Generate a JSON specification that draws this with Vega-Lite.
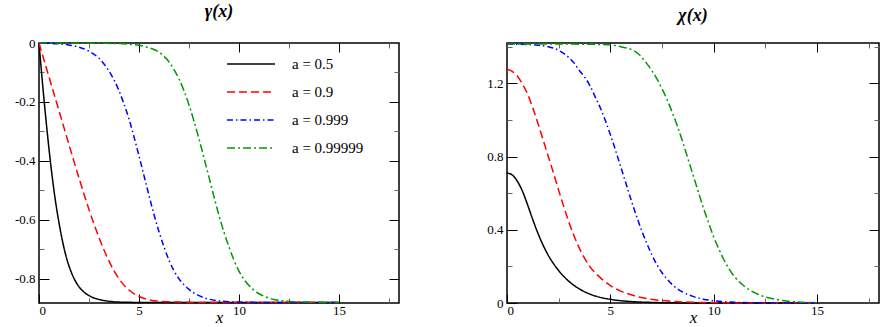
{
  "$schema": "https://vega.github.io/schema/vega-lite/v6.json",
  "padding": {"left": 0, "top": 2, "right": 0, "bottom": 0},
  "spacing": 67,
  "config": {
    "view": {"stroke": "black", "strokeWidth": 1.5},
    "axis": {"domain": false, "grid": false, "labelFont": "'Liberation Serif', serif", "labelFontSize": 13, "labelColor": "black", "tickColor": "black", "titleFont": "'Liberation Serif', serif", "titleColor": "black"},
    "legend": {"orient": "none", "padding": 0, "symbolType": "stroke", "symbolSize": 2300, "symbolStrokeWidth": 1.5, "labelFont": "'Liberation Serif', serif", "labelFontSize": 15, "labelColor": "black", "labelOffset": 16, "clipHeight": 28, "rowPadding": 0, "title": null}
  },
  "datasets": {
    "gamma": [
      {"s": "a = 0.5", "x": 0, "v": 0}, {"s": "a = 0.5", "x": 0.2, "v": -0.155}, {"s": "a = 0.5", "x": 0.4, "v": -0.295}, {"s": "a = 0.5", "x": 0.6, "v": -0.42}, {"s": "a = 0.5", "x": 0.8, "v": -0.525}, {"s": "a = 0.5", "x": 1.0, "v": -0.61}, {"s": "a = 0.5", "x": 1.2, "v": -0.68}, {"s": "a = 0.5", "x": 1.4, "v": -0.735}, {"s": "a = 0.5", "x": 1.6, "v": -0.775}, {"s": "a = 0.5", "x": 1.8, "v": -0.805}, {"s": "a = 0.5", "x": 2.0, "v": -0.827}, {"s": "a = 0.5", "x": 2.25, "v": -0.845}, {"s": "a = 0.5", "x": 2.5, "v": -0.857}, {"s": "a = 0.5", "x": 3.0, "v": -0.87}, {"s": "a = 0.5", "x": 3.5, "v": -0.876}, {"s": "a = 0.5", "x": 4.0, "v": -0.879}, {"s": "a = 0.5", "x": 5.0, "v": -0.88}, {"s": "a = 0.5", "x": 10.0, "v": -0.88}, {"s": "a = 0.5", "x": 15.0, "v": -0.88},
      {"s": "a = 0.9", "x": 0, "v": 0}, {"s": "a = 0.9", "x": 0.5, "v": -0.115}, {"s": "a = 0.9", "x": 1.0, "v": -0.23}, {"s": "a = 0.9", "x": 1.5, "v": -0.345}, {"s": "a = 0.9", "x": 2.0, "v": -0.458}, {"s": "a = 0.9", "x": 2.5, "v": -0.565}, {"s": "a = 0.9", "x": 3.0, "v": -0.66}, {"s": "a = 0.9", "x": 3.5, "v": -0.74}, {"s": "a = 0.9", "x": 4.0, "v": -0.8}, {"s": "a = 0.9", "x": 4.5, "v": -0.838}, {"s": "a = 0.9", "x": 5.0, "v": -0.86}, {"s": "a = 0.9", "x": 5.5, "v": -0.871}, {"s": "a = 0.9", "x": 6.0, "v": -0.876}, {"s": "a = 0.9", "x": 7.0, "v": -0.879}, {"s": "a = 0.9", "x": 8.0, "v": -0.88}, {"s": "a = 0.9", "x": 15.0, "v": -0.88},
      {"s": "a = 0.999", "x": 0, "v": 0}, {"s": "a = 0.999", "x": 1.0, "v": -0.003}, {"s": "a = 0.999", "x": 1.5, "v": -0.007}, {"s": "a = 0.999", "x": 2.0, "v": -0.014}, {"s": "a = 0.999", "x": 2.5, "v": -0.028}, {"s": "a = 0.999", "x": 3.0, "v": -0.052}, {"s": "a = 0.999", "x": 3.25, "v": -0.071}, {"s": "a = 0.999", "x": 3.5, "v": -0.095}, {"s": "a = 0.999", "x": 3.75, "v": -0.125}, {"s": "a = 0.999", "x": 4.0, "v": -0.162}, {"s": "a = 0.999", "x": 4.25, "v": -0.207}, {"s": "a = 0.999", "x": 4.5, "v": -0.258}, {"s": "a = 0.999", "x": 4.75, "v": -0.318}, {"s": "a = 0.999", "x": 5.0, "v": -0.383}, {"s": "a = 0.999", "x": 5.25, "v": -0.45}, {"s": "a = 0.999", "x": 5.5, "v": -0.517}, {"s": "a = 0.999", "x": 5.75, "v": -0.582}, {"s": "a = 0.999", "x": 6.0, "v": -0.64}, {"s": "a = 0.999", "x": 6.25, "v": -0.692}, {"s": "a = 0.999", "x": 6.5, "v": -0.737}, {"s": "a = 0.999", "x": 6.75, "v": -0.773}, {"s": "a = 0.999", "x": 7.0, "v": -0.8}, {"s": "a = 0.999", "x": 7.25, "v": -0.82}, {"s": "a = 0.999", "x": 7.5, "v": -0.836}, {"s": "a = 0.999", "x": 8.0, "v": -0.857}, {"s": "a = 0.999", "x": 8.5, "v": -0.869}, {"s": "a = 0.999", "x": 9.0, "v": -0.875}, {"s": "a = 0.999", "x": 10.0, "v": -0.879}, {"s": "a = 0.999", "x": 11.0, "v": -0.88}, {"s": "a = 0.999", "x": 15.0, "v": -0.88},
      {"s": "a = 0.99999", "x": 0, "v": 0}, {"s": "a = 0.99999", "x": 3.0, "v": -0.001}, {"s": "a = 0.99999", "x": 4.0, "v": -0.002}, {"s": "a = 0.99999", "x": 4.5, "v": -0.004}, {"s": "a = 0.99999", "x": 5.0, "v": -0.008}, {"s": "a = 0.99999", "x": 5.5, "v": -0.016}, {"s": "a = 0.99999", "x": 6.0, "v": -0.031}, {"s": "a = 0.99999", "x": 6.25, "v": -0.045}, {"s": "a = 0.99999", "x": 6.5, "v": -0.064}, {"s": "a = 0.99999", "x": 6.75, "v": -0.09}, {"s": "a = 0.99999", "x": 7.0, "v": -0.122}, {"s": "a = 0.99999", "x": 7.25, "v": -0.162}, {"s": "a = 0.99999", "x": 7.5, "v": -0.21}, {"s": "a = 0.99999", "x": 7.75, "v": -0.265}, {"s": "a = 0.99999", "x": 8.0, "v": -0.325}, {"s": "a = 0.99999", "x": 8.25, "v": -0.39}, {"s": "a = 0.99999", "x": 8.5, "v": -0.455}, {"s": "a = 0.99999", "x": 8.75, "v": -0.522}, {"s": "a = 0.99999", "x": 9.0, "v": -0.585}, {"s": "a = 0.99999", "x": 9.25, "v": -0.642}, {"s": "a = 0.99999", "x": 9.5, "v": -0.692}, {"s": "a = 0.99999", "x": 9.75, "v": -0.737}, {"s": "a = 0.99999", "x": 10.0, "v": -0.774}, {"s": "a = 0.99999", "x": 10.25, "v": -0.802}, {"s": "a = 0.99999", "x": 10.5, "v": -0.823}, {"s": "a = 0.99999", "x": 10.75, "v": -0.839}, {"s": "a = 0.99999", "x": 11.25, "v": -0.859}, {"s": "a = 0.99999", "x": 11.75, "v": -0.87}, {"s": "a = 0.99999", "x": 12.25, "v": -0.875}, {"s": "a = 0.99999", "x": 13.0, "v": -0.878}, {"s": "a = 0.99999", "x": 14.0, "v": -0.88}, {"s": "a = 0.99999", "x": 15.0, "v": -0.88}
    ],
    "chi": [
      {"s": "a = 0.5", "x": 0, "v": 0.71}, {"s": "a = 0.5", "x": 0.25, "v": 0.7}, {"s": "a = 0.5", "x": 0.5, "v": 0.665}, {"s": "a = 0.5", "x": 0.75, "v": 0.61}, {"s": "a = 0.5", "x": 1.0, "v": 0.535}, {"s": "a = 0.5", "x": 1.25, "v": 0.455}, {"s": "a = 0.5", "x": 1.5, "v": 0.38}, {"s": "a = 0.5", "x": 1.75, "v": 0.315}, {"s": "a = 0.5", "x": 2.0, "v": 0.26}, {"s": "a = 0.5", "x": 2.25, "v": 0.215}, {"s": "a = 0.5", "x": 2.5, "v": 0.177}, {"s": "a = 0.5", "x": 2.75, "v": 0.145}, {"s": "a = 0.5", "x": 3.0, "v": 0.118}, {"s": "a = 0.5", "x": 3.5, "v": 0.077}, {"s": "a = 0.5", "x": 4.0, "v": 0.049}, {"s": "a = 0.5", "x": 4.5, "v": 0.031}, {"s": "a = 0.5", "x": 5.0, "v": 0.02}, {"s": "a = 0.5", "x": 6.0, "v": 0.008}, {"s": "a = 0.5", "x": 7.0, "v": 0.003}, {"s": "a = 0.5", "x": 8.0, "v": 0.001}, {"s": "a = 0.5", "x": 9.0, "v": 0}, {"s": "a = 0.5", "x": 15.0, "v": 0},
      {"s": "a = 0.9", "x": 0, "v": 1.277}, {"s": "a = 0.9", "x": 0.25, "v": 1.265}, {"s": "a = 0.9", "x": 0.5, "v": 1.24}, {"s": "a = 0.9", "x": 0.75, "v": 1.195}, {"s": "a = 0.9", "x": 1.0, "v": 1.14}, {"s": "a = 0.9", "x": 1.25, "v": 1.065}, {"s": "a = 0.9", "x": 1.5, "v": 0.98}, {"s": "a = 0.9", "x": 1.75, "v": 0.89}, {"s": "a = 0.9", "x": 2.0, "v": 0.8}, {"s": "a = 0.9", "x": 2.25, "v": 0.71}, {"s": "a = 0.9", "x": 2.5, "v": 0.615}, {"s": "a = 0.9", "x": 2.75, "v": 0.525}, {"s": "a = 0.9", "x": 3.0, "v": 0.44}, {"s": "a = 0.9", "x": 3.25, "v": 0.365}, {"s": "a = 0.9", "x": 3.5, "v": 0.3}, {"s": "a = 0.9", "x": 3.75, "v": 0.245}, {"s": "a = 0.9", "x": 4.0, "v": 0.2}, {"s": "a = 0.9", "x": 4.5, "v": 0.14}, {"s": "a = 0.9", "x": 5.0, "v": 0.095}, {"s": "a = 0.9", "x": 5.5, "v": 0.065}, {"s": "a = 0.9", "x": 6.0, "v": 0.045}, {"s": "a = 0.9", "x": 6.5, "v": 0.03}, {"s": "a = 0.9", "x": 7.0, "v": 0.02}, {"s": "a = 0.9", "x": 8.0, "v": 0.009}, {"s": "a = 0.9", "x": 9.0, "v": 0.004}, {"s": "a = 0.9", "x": 10.0, "v": 0.002}, {"s": "a = 0.9", "x": 11.0, "v": 0}, {"s": "a = 0.9", "x": 15.0, "v": 0},
      {"s": "a = 0.999", "x": 0, "v": 1.414}, {"s": "a = 0.999", "x": 1.0, "v": 1.412}, {"s": "a = 0.999", "x": 1.5, "v": 1.408}, {"s": "a = 0.999", "x": 2.0, "v": 1.4}, {"s": "a = 0.999", "x": 2.5, "v": 1.38}, {"s": "a = 0.999", "x": 3.0, "v": 1.34}, {"s": "a = 0.999", "x": 3.25, "v": 1.31}, {"s": "a = 0.999", "x": 3.5, "v": 1.27}, {"s": "a = 0.999", "x": 3.75, "v": 1.235}, {"s": "a = 0.999", "x": 4.0, "v": 1.19}, {"s": "a = 0.999", "x": 4.25, "v": 1.13}, {"s": "a = 0.999", "x": 4.5, "v": 1.07}, {"s": "a = 0.999", "x": 4.75, "v": 1.0}, {"s": "a = 0.999", "x": 5.0, "v": 0.92}, {"s": "a = 0.999", "x": 5.25, "v": 0.835}, {"s": "a = 0.999", "x": 5.5, "v": 0.745}, {"s": "a = 0.999", "x": 5.75, "v": 0.655}, {"s": "a = 0.999", "x": 6.0, "v": 0.565}, {"s": "a = 0.999", "x": 6.25, "v": 0.48}, {"s": "a = 0.999", "x": 6.5, "v": 0.4}, {"s": "a = 0.999", "x": 6.75, "v": 0.33}, {"s": "a = 0.999", "x": 7.0, "v": 0.265}, {"s": "a = 0.999", "x": 7.25, "v": 0.21}, {"s": "a = 0.999", "x": 7.5, "v": 0.165}, {"s": "a = 0.999", "x": 7.75, "v": 0.13}, {"s": "a = 0.999", "x": 8.0, "v": 0.1}, {"s": "a = 0.999", "x": 8.5, "v": 0.06}, {"s": "a = 0.999", "x": 9.0, "v": 0.036}, {"s": "a = 0.999", "x": 9.5, "v": 0.021}, {"s": "a = 0.999", "x": 10.0, "v": 0.012}, {"s": "a = 0.999", "x": 11.0, "v": 0.004}, {"s": "a = 0.999", "x": 12.0, "v": 0.001}, {"s": "a = 0.999", "x": 13.0, "v": 0}, {"s": "a = 0.999", "x": 15.0, "v": 0},
      {"s": "a = 0.99999", "x": 0, "v": 1.414}, {"s": "a = 0.99999", "x": 3.0, "v": 1.414}, {"s": "a = 0.99999", "x": 4.0, "v": 1.413}, {"s": "a = 0.99999", "x": 5.0, "v": 1.41}, {"s": "a = 0.99999", "x": 5.5, "v": 1.4}, {"s": "a = 0.99999", "x": 6.0, "v": 1.385}, {"s": "a = 0.99999", "x": 6.25, "v": 1.37}, {"s": "a = 0.99999", "x": 6.5, "v": 1.345}, {"s": "a = 0.99999", "x": 6.75, "v": 1.31}, {"s": "a = 0.99999", "x": 7.0, "v": 1.27}, {"s": "a = 0.99999", "x": 7.25, "v": 1.225}, {"s": "a = 0.99999", "x": 7.5, "v": 1.17}, {"s": "a = 0.99999", "x": 7.75, "v": 1.11}, {"s": "a = 0.99999", "x": 8.0, "v": 1.04}, {"s": "a = 0.99999", "x": 8.25, "v": 0.965}, {"s": "a = 0.99999", "x": 8.5, "v": 0.88}, {"s": "a = 0.99999", "x": 8.75, "v": 0.79}, {"s": "a = 0.99999", "x": 9.0, "v": 0.7}, {"s": "a = 0.99999", "x": 9.25, "v": 0.61}, {"s": "a = 0.99999", "x": 9.5, "v": 0.52}, {"s": "a = 0.99999", "x": 9.75, "v": 0.44}, {"s": "a = 0.99999", "x": 10.0, "v": 0.36}, {"s": "a = 0.99999", "x": 10.25, "v": 0.295}, {"s": "a = 0.99999", "x": 10.5, "v": 0.235}, {"s": "a = 0.99999", "x": 10.75, "v": 0.185}, {"s": "a = 0.99999", "x": 11.0, "v": 0.145}, {"s": "a = 0.99999", "x": 11.5, "v": 0.09}, {"s": "a = 0.99999", "x": 12.0, "v": 0.055}, {"s": "a = 0.99999", "x": 12.5, "v": 0.033}, {"s": "a = 0.99999", "x": 13.0, "v": 0.02}, {"s": "a = 0.99999", "x": 13.5, "v": 0.011}, {"s": "a = 0.99999", "x": 14.0, "v": 0.006}, {"s": "a = 0.99999", "x": 15.0, "v": 0.002}
    ]
  },
  "hconcat": [
    {
      "width": 360, "height": 260,
      "title": {"text": "γ(x)", "font": "'Liberation Serif', serif", "fontSize": 18, "fontStyle": "italic", "fontWeight": "bold", "color": "black", "anchor": "middle", "offset": 16},
      "data": {"name": "gamma"},
      "resolve": {"axis": {"x": "independent", "y": "independent"}},
      "layer": [
        {
          "mark": {"type": "line", "strokeWidth": 1.5, "interpolate": "monotone"},
          "encoding": {
            "x": {"field": "x", "type": "quantitative", "scale": {"domain": [0, 18], "nice": false}, "axis": {"orient": "bottom", "values": [0, 5, 10, 15], "tickSize": -9, "labelPadding": 10, "title": "x", "titleFontStyle": "italic", "titleFontSize": 17, "titleFontWeight": "normal", "titlePadding": -8}},
            "y": {"field": "v", "type": "quantitative", "scale": {"domain": [-0.882, 0], "nice": false, "zero": false}, "axis": {"orient": "left", "values": [0, -0.2, -0.4, -0.6, -0.8], "tickSize": -10, "labelPadding": 14, "labelExpr": "datum.value == 0 ? '0' : '-' + format(-datum.value, '.1f')", "title": null, "minExtent": 38, "maxExtent": 38}},
            "color": {"field": "s", "type": "nominal", "scale": {"domain": ["a = 0.5", "a = 0.9", "a = 0.999", "a = 0.99999"], "range": ["#000000", "#ff0000", "#0000ff", "#009900"]}, "legend": {"legendX": 187, "legendY": 7}},
            "strokeDash": {"field": "s", "type": "nominal", "scale": {"domain": ["a = 0.5", "a = 0.9", "a = 0.999", "a = 0.99999"], "range": [[1, 0], [8, 4], [6, 3, 1.5, 3], [8, 3, 2, 3]]}, "legend": {"legendX": 187, "legendY": 7}}
          }
        },
        {
          "mark": {"type": "point", "opacity": 0},
          "encoding": {
            "x": {"field": "x", "type": "quantitative", "axis": {"orient": "top", "values": [5, 10, 15], "tickSize": -9, "labels": false, "title": null, "minExtent": 0, "maxExtent": 0}},
            "y": {"field": "v", "type": "quantitative", "axis": {"orient": "right", "values": [-0.2, -0.4, -0.6, -0.8], "tickSize": -10, "labels": false, "title": null, "minExtent": 0, "maxExtent": 0}}
          }
        },
        {
          "mark": {"type": "point", "opacity": 0},
          "encoding": {
            "x": {"field": "x", "type": "quantitative", "axis": {"orient": "bottom", "values": [2.5, 7.5, 12.5, 17.5], "tickSize": -5, "tickColor": "#666666", "labels": false, "title": null, "minExtent": 0, "maxExtent": 0}},
            "y": {"field": "v", "type": "quantitative", "axis": {"orient": "left", "values": [-0.1, -0.3, -0.5, -0.7], "tickSize": -5, "tickColor": "#666666", "labels": false, "title": null, "minExtent": 0, "maxExtent": 0}}
          }
        },
        {
          "mark": {"type": "point", "opacity": 0},
          "encoding": {
            "x": {"field": "x", "type": "quantitative", "axis": {"orient": "top", "values": [2.5, 7.5, 12.5, 17.5], "tickSize": -5, "tickColor": "#666666", "labels": false, "title": null, "minExtent": 0, "maxExtent": 0}},
            "y": {"field": "v", "type": "quantitative", "axis": {"orient": "right", "values": [-0.1, -0.3, -0.5, -0.7], "tickSize": -5, "tickColor": "#666666", "labels": false, "title": null, "minExtent": 0, "maxExtent": 0}}
          }
        }
      ]
    },
    {
      "width": 372, "height": 260,
      "title": {"text": "χ(x)", "font": "'Liberation Serif', serif", "fontSize": 18, "fontStyle": "italic", "fontWeight": "bold", "color": "black", "anchor": "middle", "offset": 16},
      "data": {"name": "chi"},
      "resolve": {"axis": {"x": "independent", "y": "independent"}},
      "layer": [
        {
          "mark": {"type": "line", "strokeWidth": 1.5, "interpolate": "monotone"},
          "encoding": {
            "x": {"field": "x", "type": "quantitative", "scale": {"domain": [0, 18], "nice": false}, "axis": {"orient": "bottom", "values": [0, 5, 10, 15], "tickSize": -9, "labelPadding": 10, "title": "x", "titleFontStyle": "italic", "titleFontSize": 17, "titleFontWeight": "normal", "titlePadding": -8}},
            "y": {"field": "v", "type": "quantitative", "scale": {"domain": [0, 1.42], "nice": false}, "axis": {"orient": "left", "values": [0, 0.4, 0.8, 1.2], "tickSize": -10, "labelPadding": 14, "labelExpr": "datum.value == 0 ? '0' : format(datum.value, '.1f')", "title": null, "minExtent": 38, "maxExtent": 38}},
            "color": {"field": "s", "type": "nominal", "scale": {"domain": ["a = 0.5", "a = 0.9", "a = 0.999", "a = 0.99999"], "range": ["#000000", "#ff0000", "#0000ff", "#009900"]}, "legend": {"legendX": 188, "legendY": 7}},
            "strokeDash": {"field": "s", "type": "nominal", "scale": {"domain": ["a = 0.5", "a = 0.9", "a = 0.999", "a = 0.99999"], "range": [[1, 0], [8, 4], [6, 3, 1.5, 3], [8, 3, 2, 3]]}, "legend": {"legendX": 188, "legendY": 7}}
          }
        },
        {
          "mark": {"type": "point", "opacity": 0},
          "encoding": {
            "x": {"field": "x", "type": "quantitative", "axis": {"orient": "top", "values": [5, 10, 15], "tickSize": -9, "labels": false, "title": null, "minExtent": 0, "maxExtent": 0}},
            "y": {"field": "v", "type": "quantitative", "axis": {"orient": "right", "values": [0.4, 0.8, 1.2], "tickSize": -10, "labels": false, "title": null, "minExtent": 0, "maxExtent": 0}}
          }
        },
        {
          "mark": {"type": "point", "opacity": 0},
          "encoding": {
            "x": {"field": "x", "type": "quantitative", "axis": {"orient": "bottom", "values": [2.5, 7.5, 12.5, 17.5], "tickSize": -5, "tickColor": "#666666", "labels": false, "title": null, "minExtent": 0, "maxExtent": 0}},
            "y": {"field": "v", "type": "quantitative", "axis": {"orient": "left", "values": [0.2, 0.6, 1.0, 1.4], "tickSize": -5, "tickColor": "#666666", "labels": false, "title": null, "minExtent": 0, "maxExtent": 0}}
          }
        },
        {
          "mark": {"type": "point", "opacity": 0},
          "encoding": {
            "x": {"field": "x", "type": "quantitative", "axis": {"orient": "top", "values": [2.5, 7.5, 12.5, 17.5], "tickSize": -5, "tickColor": "#666666", "labels": false, "title": null, "minExtent": 0, "maxExtent": 0}},
            "y": {"field": "v", "type": "quantitative", "axis": {"orient": "right", "values": [0.2, 0.6, 1.0, 1.4], "tickSize": -5, "tickColor": "#666666", "labels": false, "title": null, "minExtent": 0, "maxExtent": 0}}
          }
        }
      ]
    }
  ]
}
